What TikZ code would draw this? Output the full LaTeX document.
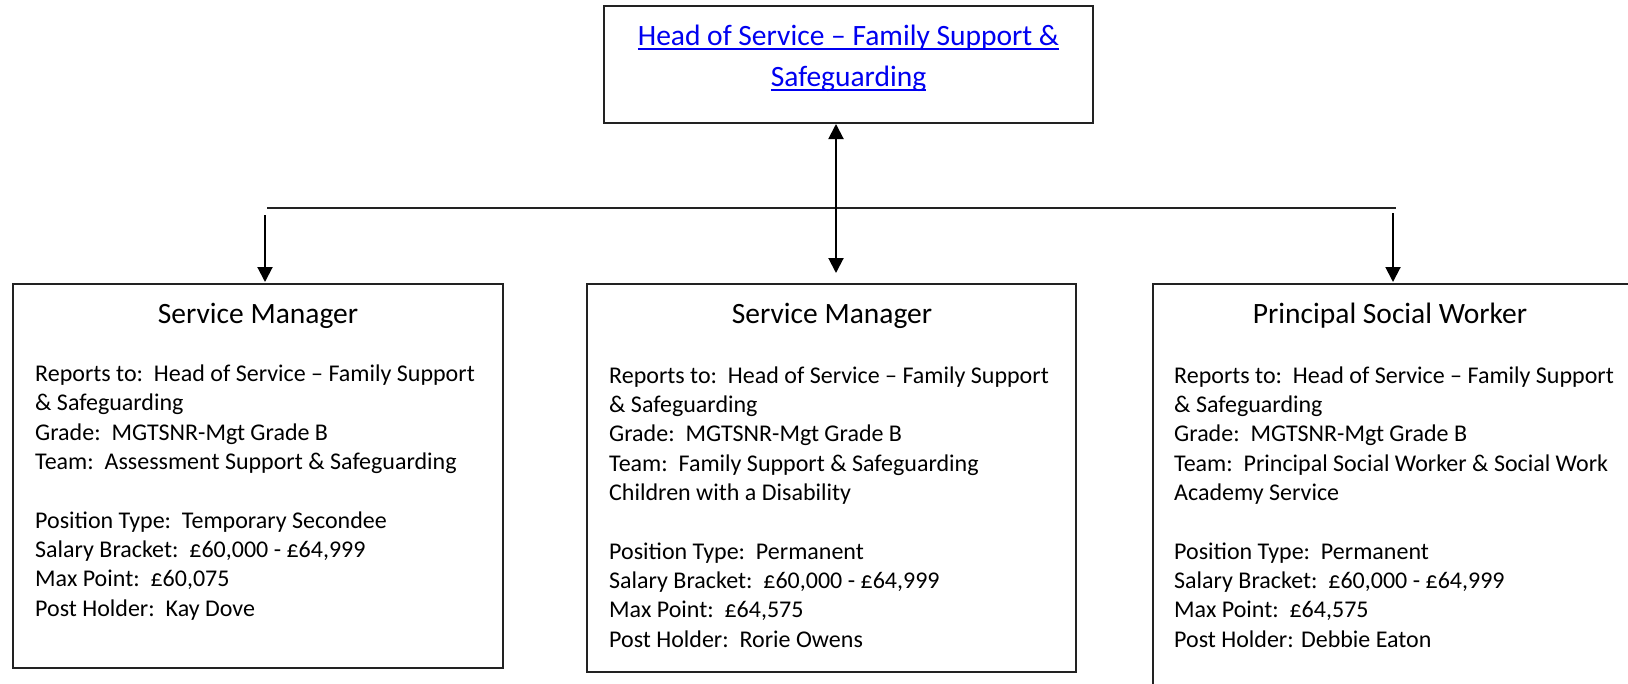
\documentclass[tikz,border=0pt]{standalone}
\usepackage{fontspec}
\setmainfont{Carlito}
\usetikzlibrary{arrows.meta}
\definecolor{linkblue}{HTML}{0000F0}
\definecolor{edge}{HTML}{222222}
\newcommand{\myuline}[1]{\setbox0=\hbox{#1}\rlap{\rule[-4.5pt]{\wd0}{1.8pt}}\box0}
\begin{document}
\begin{tikzpicture}[x=1pt,y=-1pt,
  box/.style={draw=edge, line width=2pt, inner sep=0pt, outer sep=0pt, anchor=north west},
  conn/.style={draw=black, line width=2pt, -{Triangle[width=15pt,length=15pt]}},
  hline/.style={draw=edge, line width=2pt},
  headtext/.style={font=\fontsize{29.5}{41}\selectfont, text=linkblue, align=center, anchor=base},
  titletext/.style={font=\fontsize{29.5}{35}\selectfont, anchor=base},
  bodytext/.style={font=\fontsize{24}{29.3}\selectfont, align=left, anchor=base west, inner sep=0pt}]
\useasboundingbox (0,0) rectangle (1628,683);
\clip (0,0) rectangle (1628,683);
\fill[white] (0,0) rectangle (1628,683);
% boxes
\node[box, minimum width=489pt, minimum height=117pt] (top) at (604,6) {};
\node[box, minimum width=490pt, minimum height=384pt] (lbox) at (13,284) {};
\node[box, minimum width=489pt, minimum height=388pt] (mbox) at (587,284) {};
\node[box, minimum width=482pt, minimum height=420pt] (rbox) at (1153,284) {};
% connectors
\coordinate (hl) at (267,208);
\coordinate (hr) at (1396,208);
\coordinate (hm) at (836,208);
\coordinate (ldrop) at (265,215);
\coordinate (rdrop) at (1393,213);
\draw[hline] (hl) -- (hr);
\draw[conn, shorten >=1pt] (hm) -- (hm |- top.south);
\draw[conn, shorten >=11pt] (hm) -- (hm |- mbox.north);
\draw[conn, shorten >=2pt] (ldrop) -- (ldrop |- lbox.north);
\draw[conn, shorten >=2pt] (rdrop) -- (rdrop |- rbox.north);
% texts (multi-line nodes: base = baseline of last line)
\node[headtext] (toptext) at (848.5,86) {\myuline{Head of Service – Family Support \&}\\\myuline{Safeguarding}};
\node[titletext] (ltitle) at (258,323) {Service Manager};
\node[titletext] (mtitle) at (832,323) {Service Manager};
\node[titletext] (rtitle) at (1390,323) {Principal Social Worker};
\node[bodytext] (lbody) at (35,616) {Reports to:\ \ Head of Service – Family Support\\
\& Safeguarding\\
Grade:\ \ MGTSNR-Mgt Grade B\\
Team:\ \ Assessment Support \& Safeguarding\\[29.3pt]
Position Type:\ \ Temporary Secondee\\
Salary Bracket:\ \ £60,000 - £64,999\\
Max Point:\ \ £60,075\\
Post Holder:\ \ Kay Dove};
\node[bodytext] (mbody) at (609,647) {Reports to:\ \ Head of Service – Family Support\\
\& Safeguarding\\
Grade:\ \ MGTSNR-Mgt Grade B\\
Team:\ \ Family Support \& Safeguarding\\
Children with a Disability\\[29.3pt]
Position Type:\ \ Permanent\\
Salary Bracket:\ \ £60,000 - £64,999\\
Max Point:\ \ £64,575\\
Post Holder:\ \ Rorie Owens};
\node[bodytext] (rbody) at (1174,647) {Reports to:\ \ Head of Service – Family Support\\
\& Safeguarding\\
Grade:\ \ MGTSNR-Mgt Grade B\\
Team:\ \ Principal Social Worker \& Social Work\\
Academy Service\\[29.3pt]
Position Type:\ \ Permanent\\
Salary Bracket:\ \ £60,000 - £64,999\\
Max Point:\ \ £64,575\\
Post Holder: Debbie Eaton};
\end{tikzpicture}
\end{document}
